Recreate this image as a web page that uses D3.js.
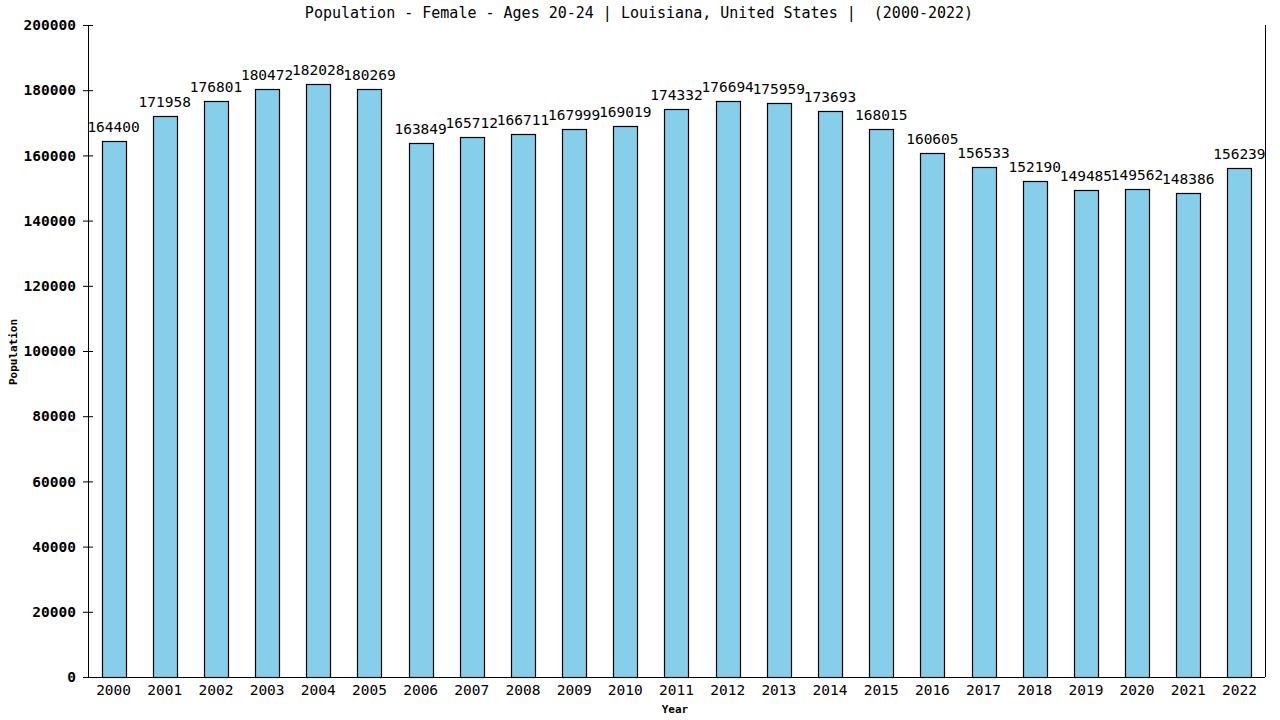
<!DOCTYPE html>
<html><head><meta charset="utf-8">
<script src="https://cdn.jsdelivr.net/npm/d3@7"></script>
<style>body{margin:0;background:#fff}text{font-family:"DejaVu Sans Mono",monospace}</style>
</head><body>
<svg id="c" width="1280" height="720"></svg>
<script>
const years = ["2000","2001","2002","2003","2004","2005","2006","2007","2008","2009","2010","2011","2012","2013","2014","2015","2016","2017","2018","2019","2020","2021","2022"];
const population = [164400,171958,176801,180472,182028,180269,163849,165712,166711,167999,169019,174332,176694,175959,173693,168015,160605,156533,152190,149485,149562,148386,156239];
const yTicks = [0,20000,40000,60000,80000,100000,120000,140000,160000,180000,200000];
const title = "Population - Female - Ages 20-24 | Louisiana, United States |  (2000-2022)";

const svg = d3.select("#c");
const L = 88, R = 1265, T = 25, B = 677;
const x = d3.scaleBand().domain(years).range([L, R]).paddingInner(0.53).paddingOuter(0.265);
const y = d3.scaleLinear().domain([0, 200000]).range([B, T]);

svg.append("text").attr("x", 639).attr("y", 18).attr("text-anchor", "middle")
  .attr("font-size", 15).style("white-space", "pre").attr("xml:space", "preserve").text(title);

// bars
svg.selectAll("rect.bar").data(population).enter().append("rect")
  .attr("x", (d,i) => Math.round(x(years[i])) + 0.5)
  .attr("y", d => Math.round(y(d)) + 0.5)
  .attr("width", Math.round(x.bandwidth()))
  .attr("height", d => B - Math.round(y(d)))
  .attr("fill", "#87CEEB").attr("stroke", "#000").attr("stroke-width", 1.2);

// value labels
svg.selectAll("text.val").data(population).enter().append("text")
  .attr("x", (d,i) => x(years[i]) + x.bandwidth()/2)
  .attr("y", d => y(d) - 9)
  .attr("text-anchor", "middle").attr("font-size", 14.5)
  .text(d => d);

// y axis
const ya = svg.append("g").attr("transform", `translate(${L},0)`)
  .call(d3.axisLeft(y).tickValues(yTicks).tickSize(5).tickFormat(d3.format("d")));
ya.select(".domain").attr("stroke", "#000").attr("d", `M0.5,${T}V${B}`);
ya.selectAll(".tick line").attr("x1", -5).attr("x2", 5).attr("stroke", "#000");
ya.selectAll(".tick text").attr("x", -12).attr("font-size", 14.5).attr("font-weight", "bold")
  .attr("font-family", "DejaVu Sans Mono").attr("fill", "#000");

// x axis
const xa = svg.append("g").attr("transform", `translate(0,${B})`)
  .call(d3.axisBottom(x).tickSize(0));
xa.select(".domain").attr("stroke", "#000").attr("d", `M${L-5},0.5H${R}`);
xa.selectAll(".tick text").attr("y", 8).attr("font-size", 14.5)
  .attr("font-family", "DejaVu Sans Mono").attr("fill", "#000");

// right border
svg.append("line").attr("x1", R + 0.5).attr("x2", R + 0.5).attr("y1", T).attr("y2", B)
  .attr("stroke", "#000");

// axis titles
svg.append("text").attr("x", 675).attr("y", 713).attr("text-anchor", "middle")
  .attr("font-size", 11).attr("font-weight", "bold").text("Year");
svg.append("text").attr("transform", "translate(17,352) rotate(-90)").attr("text-anchor", "middle")
  .attr("font-size", 11).attr("font-weight", "bold").text("Population");
</script>
</body></html>
